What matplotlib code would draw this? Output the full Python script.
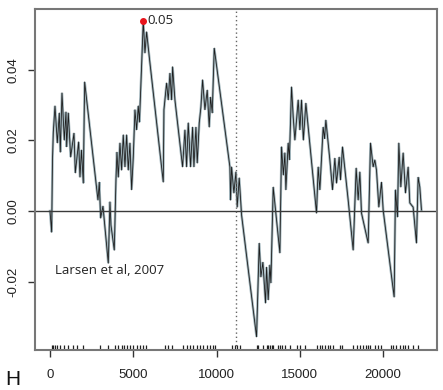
import matplotlib
matplotlib.use("Agg")
import matplotlib.pyplot as plt

# running score, traced at its turning points
pos = [0, 100, 150, 200, 300, 440, 560, 620, 720, 860, 960, 1000, 1100, 1240,
       1440, 1520, 1720, 1800, 1890, 2000, 2080, 2880, 2960, 3040, 3180, 3500,
       3600, 3660, 3860, 3960, 4020, 4100, 4200, 4300, 4400, 4500, 4600, 4700,
       4800, 4900, 5000, 5100, 5200, 5300, 5370, 5440, 5490, 5600, 5700, 5800,
       5960, 6800, 6840, 7000, 7100, 7200, 7300, 7360, 7500, 7960, 8100, 8200,
       8300, 8440, 8560, 8640, 8760, 8840, 8960, 9060, 9160, 9300, 9440, 9560,
       9640, 9740, 9860, 10800, 10840, 10900, 11040, 11160, 11240, 11360, 11500,
       12400, 12560, 12660, 12780, 12940, 13000, 13100, 13200, 13260, 13400,
       13800, 13900, 14010, 14100, 14160, 14300, 14370, 14500, 14600, 14700,
       14900, 15000, 15100, 15210, 15360, 16000, 16100, 16200, 16400, 16480,
       16560, 16800, 16960, 17100, 17200, 17360, 17440, 17560, 17900, 18200,
       18380, 18500, 18600, 18700, 19100, 19240, 19400, 19500, 19600, 19740,
       19900, 20000, 20660, 20740, 20860, 20940, 21060, 21200, 21340, 21500,
       21600, 21800, 22000, 22100, 22200, 22300]
score = [0.0, -0.006, 0.0145, 0.0224, 0.0298, 0.0193, 0.0278, 0.0167, 0.0335,
         0.0201, 0.0281, 0.0182, 0.0278, 0.0153, 0.0221, 0.0108, 0.0196, 0.0096,
         0.0173, 0.0079, 0.0366, 0.0031, 0.0082, -0.002, 0.0014, -0.0148, 0.0026,
         -0.004, -0.0111, 0.0088, 0.0167, 0.0096, 0.0193, 0.0116, 0.0216, 0.0125,
         0.0216, 0.0116, 0.0193, 0.006, 0.0153, 0.0287, 0.023, 0.0298, 0.0252,
         0.0335, 0.040, 0.054, 0.0448, 0.0508, 0.0437, 0.0082, 0.0287, 0.0363,
         0.0315, 0.0391, 0.0315, 0.0409, 0.0315, 0.0125, 0.023, 0.0125, 0.025,
         0.0125, 0.0238, 0.0125, 0.0238, 0.0136, 0.025, 0.0295, 0.0372, 0.0287,
         0.0343, 0.0238, 0.0323, 0.0278, 0.0462, 0.0125, 0.0031, 0.0125, 0.0051,
         0.0111, 0.0011, 0.0094, -0.0011, -0.0357, -0.0091, -0.0187, -0.0145,
         -0.0261, -0.0159, -0.0252, -0.0153, -0.0204, 0.0068, -0.0119, 0.0182,
         0.0102, 0.0165, 0.006, 0.0193, 0.0145, 0.0352, 0.0267, 0.0201, 0.0315,
         0.023, 0.0315, 0.0201, 0.0306, -0.0006, 0.0125, 0.006, 0.0238, 0.0205,
         0.0258, 0.0145, 0.006, 0.015, 0.0079, 0.0153, 0.0088, 0.0182, 0.0031,
         -0.0111, 0.0122, 0.0031, 0.0111, -0.0006, -0.0091, 0.0193, 0.0125,
         0.0145, 0.0116, 0.0011, 0.0082, 0.0003, -0.0244, 0.006, -0.0017, 0.0193,
         0.0068, 0.0165, 0.0051, 0.0125, 0.0023, 0.0011, -0.0091, 0.0096, 0.0068,
         0.0003]

# gene set members along the ranked list
hits = [100, 200, 300, 440, 600, 840, 1100, 1360, 1640, 2000, 3000, 3500, 3900,
        4100, 4300, 4440, 4600, 4800, 5000, 5200, 5400, 5600, 5740, 6900, 7100,
        7300, 8000, 8200, 8400, 8600, 8800, 9000, 9200, 9400, 9600, 9800, 9900,
        10900, 11100, 11200, 11400, 12400, 12500, 12800, 13000, 13100, 13200,
        13300, 13400, 13700, 13800, 13900, 14100, 14400, 14800, 15000, 15300,
        16000, 16200, 16300, 16500, 16700, 16800, 17000, 17400, 17500, 18200,
        18400, 18600, 18800, 19000, 19100, 19200, 19500, 19700, 19900, 20500,
        20600, 20800, 21000, 21200, 21300, 21500, 21800, 22100]

max_pos = 5600
max_score = 0.054
cutoff = 11160

fig = plt.figure(figsize=(4.43, 3.90), dpi=100)
ax = fig.add_axes([0.079, 0.1026, 0.907, 0.8754])

ax.plot(pos, score, color="#9fb3ba", lw=1.8, solid_joinstyle="miter")
ax.plot(pos, score, color="#1e1e1e", lw=0.6)
ax.axhline(0, color="#3a3a3a", lw=1.0)
ax.axvline(cutoff, color="#666666", lw=1.0, ls=(0, (1, 2)))
ax.vlines(hits, 0, 0.016, color="#222222", lw=0.9,
          transform=ax.get_xaxis_transform())

ax.plot([max_pos], [max_score], "o", color="#e8141c", ms=4, zorder=5)
ax.text(max_pos + 250, max_score, "%.2f" % max_score, fontsize=9.5,
        family="Open Sans", color="#222222", va="center", ha="left")
ax.text(300, -0.0168, "Larsen et al, 2007", fontsize=9.5,
        family="Open Sans", color="#222222", va="center", ha="left")

ax.set_xlim(-900, 23220)
ax.set_ylim(-0.0394, 0.0574)
ax.set_xticks([0, 5000, 10000, 15000, 20000])
ax.set_yticks([-0.02, 0.0, 0.02, 0.04])
ax.set_yticklabels(["-0.02", "0.00", "0.02", "0.04"], rotation=90, va="center")

for s in ax.spines.values():
    s.set_color("#777777")
    s.set_linewidth(1.5)
ax.tick_params(direction="out", length=5, width=1, color="#333333",
               labelsize=9.5, labelcolor="#222222")
ax.tick_params(axis="x", pad=9)
ax.tick_params(axis="y", pad=6)
for lab in ax.get_xticklabels() + ax.get_yticklabels():
    lab.set_family("Liberation Sans")

fig.text(5 / 443, 1 / 390, "H", fontsize=15, family="Liberation Sans",
         color="#111111", ha="left", va="bottom")

fig.savefig("out.png", dpi=100)
